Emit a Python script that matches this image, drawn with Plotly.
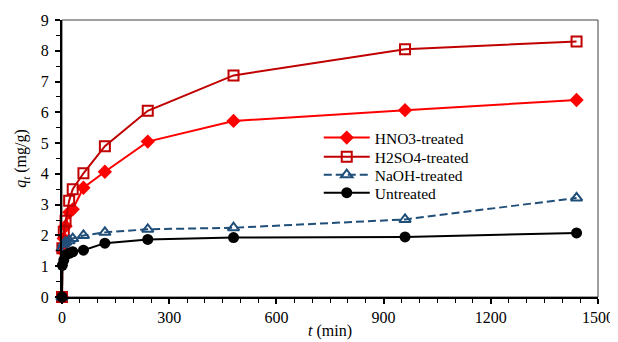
import plotly.graph_objects as go

time_min = [0, 1, 5, 10, 20, 30, 60, 120, 240, 480, 960, 1440]
hno3 = [0, 1.5, 1.9, 2.3, 2.75, 2.85, 3.55, 4.07, 5.05, 5.72, 6.07, 6.4]
h2so4 = [0, 1.58, 2.12, 2.48, 3.13, 3.5, 4.02, 4.9, 6.05, 7.2, 8.05, 8.3]
naoh = [0, 1.6, 1.72, 1.78, 1.83, 1.9, 2.0, 2.1, 2.2, 2.25, 2.52, 3.22]
untreated = [0, 1.03, 1.2, 1.36, 1.42, 1.47, 1.52, 1.75, 1.87, 1.93, 1.95, 2.08]

x_ticks = [0, 300, 600, 900, 1200, 1500]
y_ticks = list(range(0, 10))

FONT = "Liberation Serif, Times New Roman, serif"

fig = go.Figure()
fig.add_trace(go.Scatter(x=time_min, y=hno3, name="HNO3-treated", mode="lines+markers",
                         cliponaxis=False, legend="legend",
                         line=dict(color="#FF0000", width=2),
                         marker=dict(symbol="diamond", size=11, color="#FF0000")))
fig.add_trace(go.Scatter(x=time_min, y=h2so4, name="H2SO4-treated", mode="lines+markers",
                         cliponaxis=False, legend="legend2",
                         line=dict(color="#C00000", width=2),
                         marker=dict(symbol="square-open", size=10, color="#C00000",
                                     line=dict(width=2, color="#C00000"))))
fig.add_trace(go.Scatter(x=time_min, y=naoh, name="NaOH-treated", mode="lines+markers",
                         cliponaxis=False, legend="legend3",
                         line=dict(color="#1F4E79", width=2, dash="8px,4px"),
                         marker=dict(symbol="triangle-up-open", size=10, color="#1F4E79",
                                     line=dict(width=2, color="#1F4E79"))))
fig.add_trace(go.Scatter(x=time_min, y=untreated, name="Untreated", mode="lines+markers",
                         cliponaxis=False, legend="legend4",
                         line=dict(color="#000000", width=2),
                         marker=dict(symbol="circle", size=11, color="#000000")))

axis_common = dict(showgrid=False, zeroline=False, showline=True, linecolor="black",
                   linewidth=2, ticks="outside", ticklen=5, tickwidth=1.5, tickcolor="black",
                   automargin=False,
                   tickfont=dict(family=FONT, size=16, color="black"))


def leg(y):
    return dict(x=0.479, y=y, xanchor="left", yanchor="middle",
                bgcolor="rgba(0,0,0,0)", borderwidth=0,
                font=dict(family=FONT, size=15.5, color="black"), itemwidth=46)


# page has an 8px body margin: figure is 610x334 placed at (8, 8)
fig.update_layout(
    width=610, height=334,
    margin=dict(l=54, r=20, t=12, b=45),
    paper_bgcolor="white", plot_bgcolor="white",
    font=dict(family=FONT, size=15, color="black"),
    showlegend=True,
    legend=leg(0.574), legend2=leg(0.505), legend3=leg(0.440), legend4=leg(0.375),
    xaxis=dict(range=[0, 1500], tickvals=x_ticks, ticktext=[str(v) for v in x_ticks],
               minor=dict(dtick=50, ticks="outside", ticklen=4, tickcolor="black", tickwidth=1),
               title=dict(text="<i>t</i> (min)", font=dict(family=FONT, size=16), standoff=0),
               **axis_common),
    yaxis=dict(range=[0, 9], tickvals=y_ticks, ticktext=[str(v) for v in y_ticks],
               minor=dict(dtick=0.5, ticks="outside", ticklen=4, tickcolor="black", tickwidth=1),
               ticklabelstandoff=3,
               title=dict(text="<i>q<sub>t</sub></i> (mg/g)", font=dict(family=FONT, size=16), standoff=10),
               **axis_common),
    xaxis2=dict(range=[0, 1500], overlaying="x", anchor="y", side="bottom", showgrid=False,
                zeroline=False, showline=False, tickvals=x_ticks, showticklabels=False,
                ticks="inside", ticklen=5, tickwidth=1.5, tickcolor="black", automargin=False),
    yaxis2=dict(range=[0, 9], overlaying="y", anchor="x", side="left", showgrid=False,
                zeroline=False, showline=False, tickvals=y_ticks, showticklabels=False,
                ticks="inside", ticklen=5, tickwidth=1.5, tickcolor="black", automargin=False),
    shapes=[dict(type="rect", xref="x domain", yref="y domain", x0=0, x1=1, y0=0, y1=1,
                 line=dict(color="#404040", width=1), layer="below")],
)

fig.write_html("out.html")
